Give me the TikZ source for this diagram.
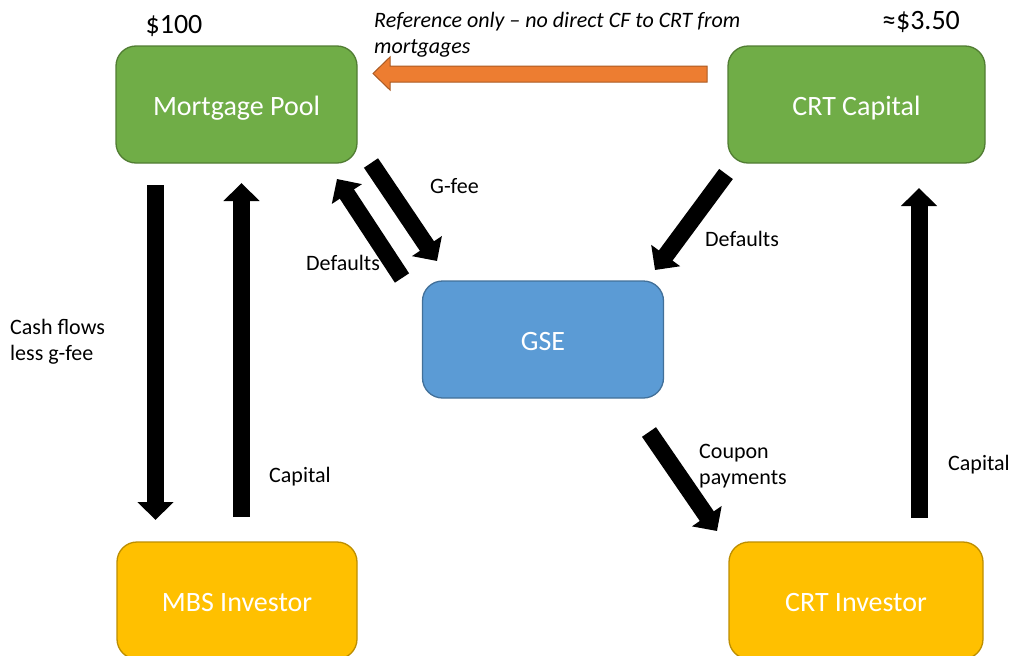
\documentclass[tikz,border=0pt]{standalone}
\usepackage{fontspec}
\setmainfont{Carlito}
\usetikzlibrary{arrows.meta}
\definecolor{poolgreen}{HTML}{70AD47}
\definecolor{gseblue}{HTML}{5B9BD5}
\definecolor{invgold}{HTML}{FFC000}
\definecolor{refcolor}{HTML}{ED7D31}
\tikzset{
  box/.style={rounded corners=20pt,minimum width=241pt,minimum height=117pt,line width=1.3pt,
    text=white,text height=21pt,text depth=0pt,font=\fontsize{28}{34}\selectfont},
  poolbox/.style={box,fill=poolgreen,draw=poolgreen!72!black},
  gsebox/.style={box,fill=gseblue,draw=gseblue!72!black},
  invbox/.style={box,fill=invgold,draw=invgold!74!black},
  flow/.style={line width=17pt,-{Triangle[length=18pt,width=35pt]}},
  lbl/.style={font=\fontsize{22}{26}\selectfont,align=left,inner sep=0pt,anchor=west},
}
\begin{document}
\begin{tikzpicture}[x=1pt,y=-1pt]
    \useasboundingbox (0,0) rectangle (1015,656);
    \node[poolbox] (pool) at (236.5,104.5) {Mortgage Pool};
    \node[poolbox,minimum width=257pt] (crtcap) at (856.5,104.5) {CRT Capital};
    \node[gsebox] (gse) at (543,339.5) {GSE};
    \node[invbox,minimum width=240pt] (mbs) at (237,600.5) {MBS Investor};
    \node[invbox,minimum width=254pt] (crtinv) at (856,600.5) {CRT Investor};
    % ends of the block arrows
    \path
    (155.5,185) coordinate (CFa) (155.5,520) coordinate (CFb)
    (241.5,517) coordinate (CAa) (241.5,183) coordinate (CAb)
    (371,163) coordinate (GFa) (437,261) coordinate (GFb)
    (402,278) coordinate (DFa) (337,179) coordinate (DFb)
    (726,174) coordinate (RDa) (655,270) coordinate (RDb)
    (649,432) coordinate (CPa) (717,531) coordinate (CPb)
    (919,518) coordinate (RCa) (919,188) coordinate (RCb)
    ;
    \foreach \s/\t in {CFa/CFb,CAa/CAb,GFa/GFb,DFa/DFb,RDa/RDb,CPa/CPb,RCa/RCb}
    \draw[flow] (\s)--(\t);
    % reference arrow from CRT Capital back to the pool
    \filldraw[fill=refcolor,draw=refcolor!72!black,line width=1pt]
    (707,66)--(390,66)--(390,57)--(373,73.5)--(390,90)--(390,82)--(707,82)--cycle;
    \node[lbl,font=\fontsize{22}{26}\selectfont\itshape] (refnote) at (374,35)
    {Reference only -- no direct CF to CRT from\\mortgages};
    \node[font=\fontsize{28}{34}\selectfont,inner sep=0pt] (poolamt) at (174,26) {\$100};
    \node[font=\fontsize{28}{34}\selectfont,inner sep=0pt] (crtamt) at (921,22) {≈\$3.50};
    \node[lbl] (gfee) at (430,186) {G-fee};
    \node[lbl] (dflpool) at (306,263) {Defaults};
    \node[lbl] (dflcrt) at (705,239) {Defaults};
    \node[lbl] (cashlbl) at (10,342) {Cash flows\\less g-fee};
    \node[lbl] (caplbl) at (269,477) {Capital};
    \node[lbl] (cpnlbl) at (699,466) {Coupon\\payments};
    \node[lbl] (crtcaplbl) at (948,465) {Capital};
\end{tikzpicture}
\end{document}
